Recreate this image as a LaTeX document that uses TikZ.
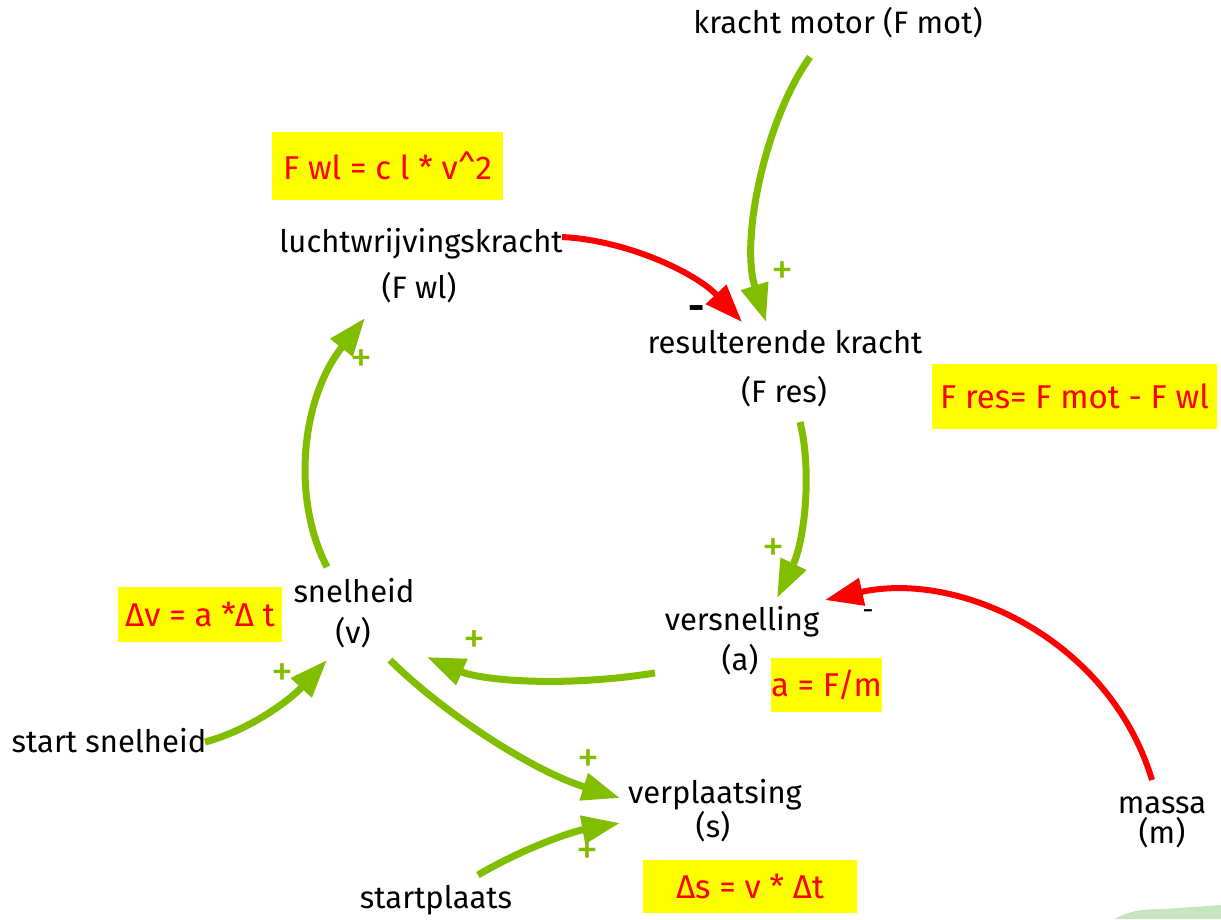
\documentclass[tikz,border=0pt]{standalone}
\usepackage{fontspec}
\setmainfont{Fira Sans}
\usetikzlibrary{arrows.meta}
\definecolor{lgreen}{RGB}{130,190,0}
\definecolor{lred}{RGB}{255,0,0}
\definecolor{lyellow}{RGB}{255,255,0}
\definecolor{deco}{RGB}{198,228,192}
\tikzset{
  lbl/.style={anchor=base,inner sep=0pt,font=\fontsize{31}{36}\selectfont,text=black},
  formula/.style={fill=lyellow,inner sep=0pt,text=lred,font=\fontsize{33}{38}\selectfont},
  plussign/.style={inner sep=0pt,text=lgreen,font=\fontsize{44}{48}\selectfont},
  minsign/.style={inner sep=0pt,text=black},
  glink/.style={draw=lgreen,line width=7pt,-{Triangle[length=38pt,width=27pt]}},
  rlink/.style={draw=lred,line width=6pt,-{Triangle[length=38pt,width=27pt]}}
}
\begin{document}
\begin{tikzpicture}[x=1pt,y=-1pt]
\useasboundingbox (0,0) rectangle (1221,919);
\fill[white] (0,0) rectangle (1221,919);
\fill[deco] (1115,919) .. controls (1130,910) and (1145,909) .. (1165,909) -- (1221,905) -- (1221,919) -- cycle;

% labels
\node[lbl] (fmot) at (838,33) {kracht motor (F mot)};
\node[lbl] (lw1) at (421,252) {luchtwrijvingskracht};
\node[lbl] (lw2) at (419,298) {(F wl)};
\node[lbl] (res1) at (785,353) {resulterende kracht};
\node[lbl] (res2) at (784,402) {(F res)};
\node[lbl] (snel1) at (354,602) {snelheid};
\node[lbl] (snel2) at (353,643) {(v)};
\node[lbl] (vers1) at (742,630) {versnelling};
\node[lbl] (vers2) at (740,670) {(a)};
\node[lbl] (ssnel) at (109,752) {start snelheid};
\node[lbl] (verpl1) at (715,803) {verplaatsing};
\node[lbl] (verpl2) at (713,837) {(s)};
\node[lbl] (splaats) at (436,908) {startplaats};
\node[lbl] (massa1) at (1162,813) {massa};
\node[lbl] (massa2) at (1162,843) {(m)};

% formulas
\node[formula,minimum width=231pt,minimum height=68pt] (ffwl) at (387.5,166) {F wl = c l * v\^{}2};
\node[formula,minimum width=285pt,minimum height=65pt] (ffres) at (1074.5,396.5) {F res= F mot - F wl};
\node[formula,minimum width=164pt,minimum height=55pt] (fdv) at (200,614.5) {Δv = a *Δ t};
\node[formula,minimum width=109pt,minimum height=54pt] (fa) at (826.5,685) {a = F/m};
\node[formula,minimum width=214pt,minimum height=53pt] (fds) at (750,886.5) {Δs = v * Δt};

% connectors
\draw[glink] ([shift={(-28,24)}]fmot.base) .. controls (765,120) and (740,240) .. ([shift={(-19,-31)}]res1.base);
\draw[rlink] ([shift={(141,-15)}]lw1.base) .. controls (625,240) and (695,272) .. ([shift={(-43,-31)}]res1.base);
\draw[glink] ([shift={(16,20)}]res2.base) .. controls (812,470) and (805,540) .. ([shift={(35,-32)}]vers1.base);
\draw[rlink] ([shift={(-10,-33)}]massa1.base) .. controls (1110,640) and (960,570) .. ([shift={(83,-30)}]vers1.base);
\draw[glink] ([shift={(-85,3)}]vers2.base) .. controls (560,688) and (480,680) .. ([shift={(74,14)}]snel2.base);
\draw[glink] ([shift={(-27,-35)}]snel1.base) .. controls (292,500) and (300,400) .. ([shift={(-54,20)}]lw2.base);
\draw[glink] ([shift={(96,-10)}]ssnel.base) .. controls (250,730) and (290,700) .. ([shift={(-26,17)}]snel2.base);
\draw[glink] ([shift={(37,17)}]snel2.base) .. controls (440,710) and (530,770) .. ([shift={(-95,-5)}]verpl1.base);
\draw[glink] ([shift={(42,-33)}]splaats.base) .. controls (520,850) and (570,832) .. ([shift={(-95,20)}]verpl1.base);

% signs
\node[plussign] (p1) at (782,273) {+};
\node[plussign] (p2) at (361,361) {+};
\node[plussign] (p3) at (773,550) {+};
\node[plussign] (p4) at (474,642) {+};
\node[plussign] (p5) at (282,675) {+};
\node[plussign] (p6) at (588,761) {+};
\node[plussign] (p7) at (587,853) {+};
\node[minsign,font=\fontsize{40}{44}\selectfont\bfseries] (m1) at (697,313) {-};
\node[minsign,font=\fontsize{28}{32}\selectfont] (m2) at (868,615) {-};
\end{tikzpicture}
\end{document}
